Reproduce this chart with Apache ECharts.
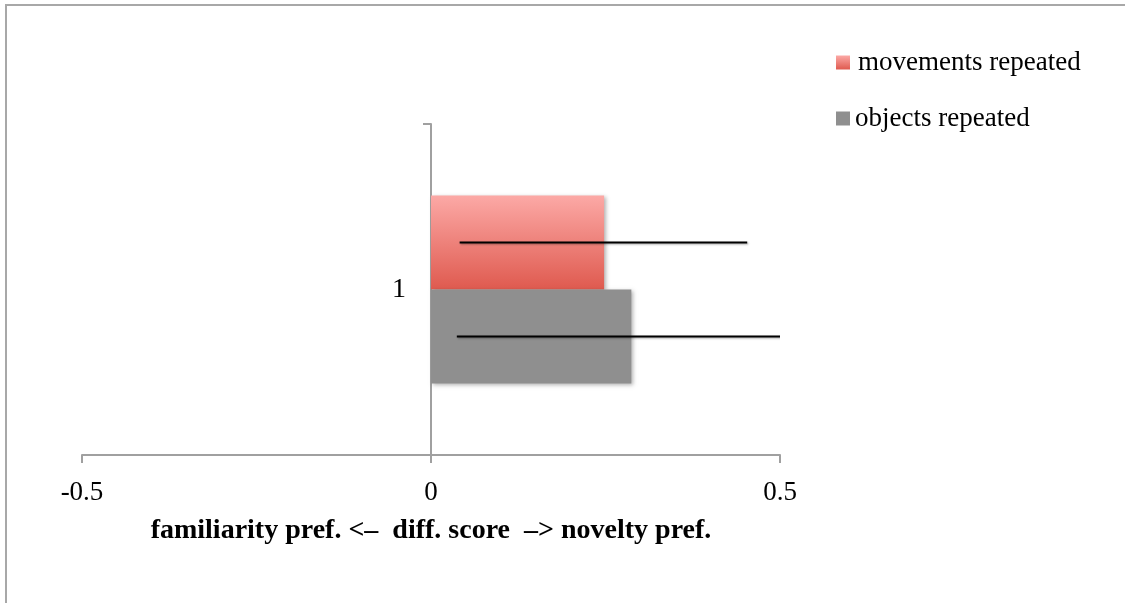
<!DOCTYPE html>
<html>
<head>
<meta charset="utf-8">
<script src="https://cdn.jsdelivr.net/npm/echarts@6/dist/echarts.min.js"></script>
<style>
html,body{margin:0;padding:0;background:#fff;}
#chart{width:1125px;height:603px;}
</style>
</head>
<body>
<div id="chart"></div>
<script>
const categories = ['1'];
const xTicks = [-0.5, 0, 0.5];
const movementsValues = [0.248];
const objectsValues = [0.287];
const movementsErrLow = [0.041];
const movementsErrHigh = [0.453];
const objectsErrLow = [0.037];
const objectsErrHigh = [0.536];

const FONT = '"Liberation Serif", "Times New Roman", serif';
const BAR_W = 94;

const chart = echarts.init(document.getElementById('chart'), null, {renderer: 'canvas'});

function errItems(lows, highs) {
  return categories.map((c, i) => [lows[i], highs[i], i]);
}
function makeErrRender(sign) {
  return function (params, api) {
    const a = api.coord([api.value(0), api.value(2)]);
    const b = api.coord([api.value(1), api.value(2)]);
    const y = a[1] + sign * BAR_W / 2;
    return {
      type: 'line',
      shape: {x1: a[0], y1: y, x2: b[0], y2: y},
      style: {
        stroke: '#000', lineWidth: 2,
        shadowColor: 'rgba(0,0,0,0.35)', shadowBlur: 2, shadowOffsetX: 1, shadowOffsetY: 1
      }
    };
  };
}

const option = {
  animation: false,
  backgroundColor: '#fff',
  graphic: [{
    type: 'rect', silent: true, z: -1,
    shape: {x: 6, y: 5, width: 1140, height: 620},
    style: {fill: 'none', stroke: '#a8a8a8', lineWidth: 2}
  }],
  legend: [{
    data: ['movements repeated'],
    orient: 'vertical', left: 836, top: 49, padding: 0,
    itemWidth: 14, itemHeight: 14, icon: 'rect',
    textStyle: {fontFamily: FONT, fontSize: 27, color: '#000', padding: [0, 0, 0, 3]}
  }, {
    data: ['objects repeated'],
    orient: 'vertical', left: 836, top: 105, padding: 0,
    itemWidth: 14, itemHeight: 14, icon: 'rect',
    textStyle: {fontFamily: FONT, fontSize: 27, color: '#000', padding: [0, 0, 0, 0]}
  }],
  grid: {left: 82, right: 345, top: 124, bottom: 148, containLabel: false},
  xAxis: {
    type: 'value', min: -0.5, max: 0.5, interval: 0.5,
    splitLine: {show: false},
    axisLine: {show: true, lineStyle: {color: '#a0a0a0', width: 2}},
    axisTick: {show: true, length: 8, lineStyle: {color: '#a0a0a0', width: 2}},
    axisLabel: {
      fontFamily: FONT, fontSize: 27, color: '#000', margin: 24,
      formatter: v => { const t = xTicks.find(x => Math.abs(x - v) < 1e-9); return String(t !== undefined ? t : v); }
    },
    name: 'familiarity pref. <–  diff. score  –> novelty pref.',
    nameLocation: 'middle', nameGap: 62,
    nameTextStyle: {fontFamily: FONT, fontSize: 28, fontWeight: 'bold', color: '#000'}
  },
  yAxis: {
    type: 'category', data: categories,
    offset: -349,
    axisLine: {show: true, onZero: false, lineStyle: {color: '#a0a0a0', width: 2}},
    axisTick: {show: true, length: 8, lineStyle: {color: '#a0a0a0', width: 2}},
    axisLabel: {fontFamily: FONT, fontSize: 28, color: '#000', margin: 25, padding: [10, 0, 0, 0]}
  },
  series: [{
    name: 'movements repeated', type: 'bar', data: movementsValues,
    barWidth: BAR_W, barGap: '0%',
    itemStyle: {
      color: new echarts.graphic.LinearGradient(0, 0, 0, 1, [
        {offset: 0, color: '#fca9a6'}, {offset: 1, color: '#df5a4f'}
      ]),
      shadowColor: 'rgba(0,0,0,0.3)', shadowBlur: 4, shadowOffsetX: 2, shadowOffsetY: 1
    }
  }, {
    name: 'objects repeated', type: 'bar', data: objectsValues,
    barWidth: BAR_W, barGap: '0%',
    itemStyle: {color: '#8f8f8f', shadowColor: 'rgba(0,0,0,0.3)', shadowBlur: 4, shadowOffsetX: 2, shadowOffsetY: 1}
  }, {
    name: 'movements err', type: 'custom', clip: true, z: 5,
    data: errItems(movementsErrLow, movementsErrHigh),
    encode: {x: [0, 1], y: 2},
    renderItem: makeErrRender(-1)
  }, {
    name: 'objects err', type: 'custom', clip: true, z: 5,
    data: errItems(objectsErrLow, objectsErrHigh),
    encode: {x: [0, 1], y: 2},
    renderItem: makeErrRender(1)
  }]
};
chart.setOption(option);
</script>
</body>
</html>
